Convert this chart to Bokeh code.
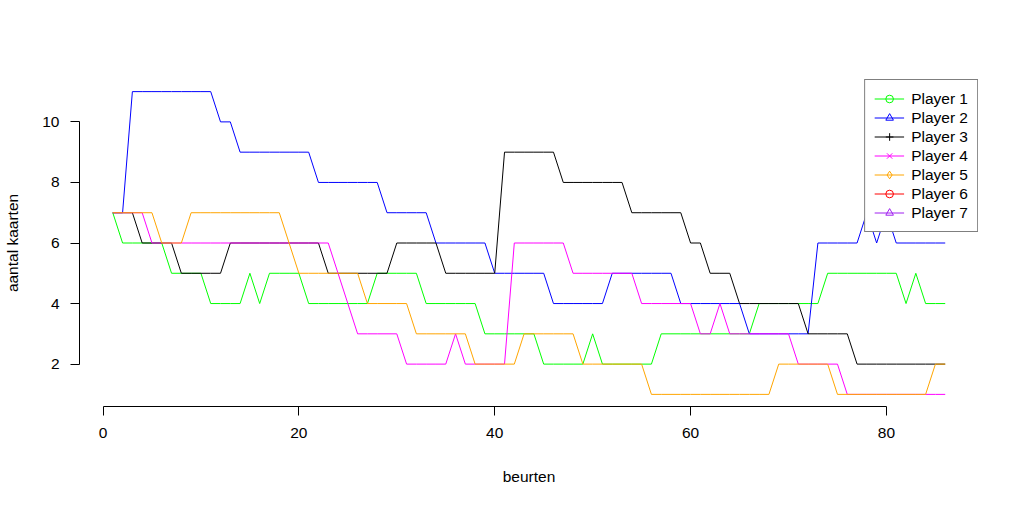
from bokeh.plotting import figure
from bokeh.models import Range1d, Legend, LegendItem, FixedTicker, ColumnDataSource
from bokeh.embed import file_html
from bokeh.resources import INLINE

turns = list(range(1, 87))

player1 = [7, 6, 6, 6, 6, 6, 5, 5, 5, 5,
           4, 4, 4, 4, 5, 4, 5, 5, 5, 5,
           4, 4, 4, 4, 4, 4, 4, 5, 5, 5,
           5, 5, 4, 4, 4, 4, 4, 4, 3, 3,
           3, 3, 3, 3, 2, 2, 2, 2, 2, 3,
           2, 2, 2, 2, 2, 2, 3, 3, 3, 3,
           3, 3, 3, 3, 3, 3, 4, 4, 4, 4,
           4, 4, 4, 5, 5, 5, 5, 5, 5, 5,
           5, 4, 5, 4, 4, 4]

player2 = [7, 7, 11, 11, 11, 11, 11, 11, 11, 11,
           11, 10, 10, 9, 9, 9, 9, 9, 9, 9,
           9, 8, 8, 8, 8, 8, 8, 8, 7, 7,
           7, 7, 7, 6, 6, 6, 6, 6, 6, 5,
           5, 5, 5, 5, 5, 4, 4, 4, 4, 4,
           4, 5, 5, 5, 5, 5, 5, 5, 4, 4,
           4, 4, 4, 4, 4, 3, 3, 3, 3, 3,
           3, 3, 6, 6, 6, 6, 6, 7, 6, 7,
           6, 6, 6, 6, 6, 6]

player3 = [7, 7, 7, 6, 6, 6, 6, 5, 5, 5,
           5, 5, 6, 6, 6, 6, 6, 6, 6, 6,
           6, 6, 5, 5, 5, 5, 5, 5, 5, 6,
           6, 6, 6, 6, 5, 5, 5, 5, 5, 5,
           9, 9, 9, 9, 9, 9, 8, 8, 8, 8,
           8, 8, 8, 7, 7, 7, 7, 7, 7, 6,
           6, 5, 5, 5, 4, 4, 4, 4, 4, 4,
           4, 3, 3, 3, 3, 3, 2, 2, 2, 2,
           2, 2, 2, 2, 2, 2]

player4 = [7, 7, 7, 7, 6, 6, 6, 6, 6, 6,
           6, 6, 6, 6, 6, 6, 6, 6, 6, 6,
           6, 6, 6, 5, 4, 3, 3, 3, 3, 3,
           2, 2, 2, 2, 2, 3, 2, 2, 2, 2,
           2, 6, 6, 6, 6, 6, 6, 5, 5, 5,
           5, 5, 5, 5, 4, 4, 4, 4, 4, 4,
           3, 3, 4, 3, 3, 3, 3, 3, 3, 3,
           2, 2, 2, 2, 2, 1, 1, 1, 1, 1,
           1, 1, 1, 1, 1, 1]

player5 = [7, 7, 7, 7, 7, 6, 6, 6, 7, 7,
           7, 7, 7, 7, 7, 7, 7, 7, 6, 5,
           5, 5, 5, 5, 5, 5, 4, 4, 4, 4,
           4, 3, 3, 3, 3, 3, 3, 2, 2, 2,
           2, 2, 3, 3, 3, 3, 3, 3, 2, 2,
           2, 2, 2, 2, 2, 1, 1, 1, 1, 1,
           1, 1, 1, 1, 1, 1, 1, 1, 2, 2,
           2, 2, 2, 2, 1, 1, 1, 1, 1, 1,
           1, 1, 1, 1, 2, 2]

names = ["Player 1", "Player 2", "Player 3", "Player 4", "Player 5", "Player 6", "Player 7"]
colors = ["#00FF00", "#0000FF", "#000000", "#FF00FF", "#FFA500", "#FF0000", "#A020F0"]
series = [player1, player2, player3, player4, player5, None, None]

x_ticks = [0, 20, 40, 60, 80]
y_ticks = [2, 4, 6, 8, 10]

FONT = "Liberation Sans"

p = figure(width=1019, height=505, output_backend="svg", toolbar_location=None,
           x_range=Range1d(-2.4, 89.4), y_range=Range1d(0.6, 11.4),
           min_border_left=79, min_border_right=41, min_border_top=79, min_border_bottom=99,
           x_axis_label="beurten", y_axis_label="aantal kaarten")
p.outline_line_color = None
p.grid.visible = False
p.background_fill_color = "white"
p.border_fill_color = "white"

for ax, ticks in ((p.xaxis[0], x_ticks), (p.yaxis[0], y_ticks)):
    ax.ticker = FixedTicker(ticks=ticks)
    ax.bounds = (ticks[0], ticks[-1])
    ax.minor_tick_line_color = None
    ax.major_tick_out = 9
    ax.major_tick_in = 0
    ax.axis_line_color = "black"
    ax.major_tick_line_color = "black"
    ax.major_label_text_font = FONT
    ax.major_label_text_font_size = "15.5px"
    ax.major_label_text_color = "black"
    ax.axis_label_text_font = FONT
    ax.axis_label_text_font_size = "15.5px"
    ax.axis_label_text_font_style = "normal"
    ax.axis_label_text_color = "black"

p.xaxis[0].major_label_standoff = 12
p.xaxis[0].axis_label_standoff = 27
p.yaxis[0].major_label_standoff = 11
p.yaxis[0].axis_label_standoff = 18

markers = [("circle", 7), ("triangle", 9), ("cross", 11), ("x", 8),
           ("diamond", 10), ("circle", 7), ("triangle", 9)]

items = []
for name, col, data, (mk, sz) in zip(names, colors, series, markers):
    if data is not None:
        src = ColumnDataSource(dict(x=turns, y=data))
    else:
        # players without recorded turns: off-screen placeholder so the legend can draw them
        src = ColumnDataSource(dict(x=[-1000, -999], y=[-1000, -1000]))
    lr = p.line("x", "y", source=src, line_color=col, line_width=1)
    dummy = ColumnDataSource(dict(x=[-1000], y=[-1000]))
    sr = p.scatter("x", "y", source=dummy, marker=mk, size=sz,
                   line_color=col, fill_color=None, line_width=1)
    items.append(LegendItem(label=name, renderers=[lr, sr]))

legend = Legend(items=items, location="top_right", margin=0, padding=9, spacing=0,
                glyph_width=30, glyph_height=19, label_height=19, label_standoff=7,
                label_text_font=FONT, label_text_font_size="15.5px", label_text_color="black",
                border_line_color="black", border_line_width=1,
                background_fill_color="white", background_fill_alpha=1.0)
p.add_layout(legend, "center")

open("out.html", "w").write(file_html(p, INLINE))
